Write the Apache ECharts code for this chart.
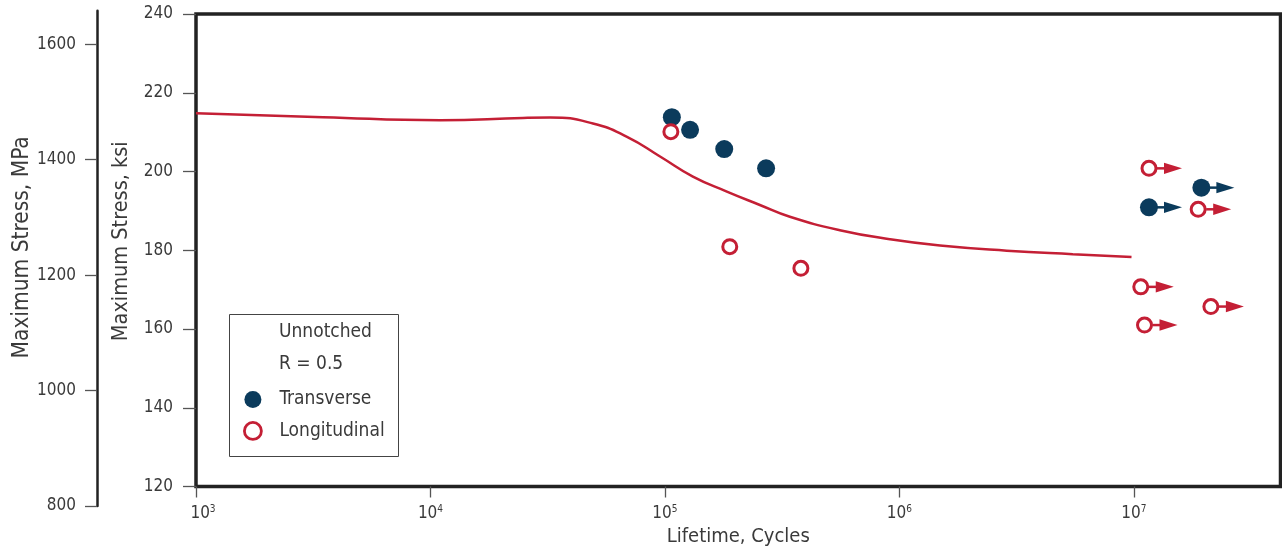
<!DOCTYPE html>
<html>
<head>
<meta charset="utf-8">
<script src="https://cdn.jsdelivr.net/npm/echarts@6/dist/echarts.min.js"></script>
<style>
html,body{margin:0;padding:0;background:#fff;}
#chart{width:1282px;height:546px;}
</style>
</head>
<body>
<div id="chart"></div>
<script>
// ---- data (cycles, ksi) ----
var transverseN   = [1.07e5, 1.28e5, 1.79e5, 2.70e5];
var transverseKsi = [213.8, 210.6, 205.7, 200.8];
var transverseRunoutN   = [1.16e7, 1.94e7];
var transverseRunoutKsi = [190.9, 195.9];

var longitudinalN   = [1.06e5, 1.89e5, 3.80e5];
var longitudinalKsi = [210.1, 180.9, 175.4];
var longitudinalRunoutN   = [1.16e7, 1.88e7, 1.07e7, 1.11e7, 2.13e7];
var longitudinalRunoutKsi = [200.8, 190.4, 170.7, 161.0, 165.7];

var curveN   = [1.0e3, 3.48e3, 1.10e4, 2.48e4, 3.24e4, 4.93e4, 6.89e4, 9.53e4, 1.316e5, 1.837e5, 2.54e5, 3.41e5, 5.57e5, 9.10e5, 1.49e6, 2.87e6, 5.49e6, 9.77e6];
var curveKsi = [214.8, 213.8, 213.0, 213.6, 213.7, 212.2, 208.8, 203.8, 198.7, 194.9, 191.5, 188.5, 185.1, 182.8, 181.2, 179.9, 179.0, 178.3];

var xTicks = [1e3, 1e4, 1e5, 1e6, 1e7];
var legendHeader = ['Unnotched', 'R = 0.5'];
var seriesNames = ['Transverse', 'Longitudinal'];

// ---- styling ----
var NAVY = '#0b3b5c';
var RED = '#c41f35';
var FONT = "'Liberation Sans Narrow','Arial Narrow','DejaVu Sans Condensed',sans-serif";
var TXT = '#3a3a3a';

function zip(a, b) { return a.map(function (v, i) { return [v, b[i]]; }); }

function arrowRender(color) {
  return function (params, api) {
    var p = api.coord([api.value(0), api.value(1)]);
    return {
      type: 'group',
      children: [
        { type: 'line', shape: { x1: p[0] + 8, y1: p[1], x2: p[0] + 17, y2: p[1] },
          style: { stroke: color, lineWidth: 2.5 } },
        { type: 'polygon', shape: { points: [[p[0] + 15, p[1] - 5.7], [p[0] + 33, p[1]], [p[0] + 15, p[1] + 5.7]] },
          style: { fill: color } }
      ]
    };
  };
}

var chart = echarts.init(document.getElementById('chart'), null, { renderer: 'canvas' });

var option = {
  animation: false,
  backgroundColor: '#fff',
  textStyle: { fontFamily: FONT },
  grid: [
    { left: 196, top: 14, right: 1.5, bottom: 59.5, show: true, borderColor: '#222', borderWidth: 3.5,
      backgroundColor: 'transparent', containLabel: false, outerBoundsMode: 'none' },
    { left: 97, top: 10.7, width: 1, bottom: 40, show: false, containLabel: false, outerBoundsMode: 'none' }
  ],
  xAxis: [
    {
      type: 'log', gridIndex: 0, logBase: 10, min: 1e3, max: 4.22e7,
      name: 'Lifetime, Cycles', nameLocation: 'middle', nameGap: 30,
      nameTextStyle: { fontSize: 20, color: TXT, fontFamily: FONT },
      axisLine: { show: false },
      axisTick: { show: true, inside: false, length: 11, customValues: xTicks, lineStyle: { color: '#555', width: 1.3 } },
      axisLabel: {
        customValues: xTicks, margin: 18, color: TXT, fontFamily: FONT,
        formatter: function (v) {
          var e = Math.round(Math.log10(v));
          return (e === 3 ? '{f|10}' : '{b|10}') + '{s|' + e + '}';
        },
        rich: {
          b: { fontSize: 17, color: TXT, fontFamily: FONT },
          f: { fontSize: 17, color: TXT, fontFamily: FONT, padding: [0, 0, 0, 14] },
          s: { fontSize: 10, color: TXT, fontFamily: FONT, padding: [0, 0, 8, 0] }
        }
      },
      splitLine: { show: false }
    },
    { type: 'value', gridIndex: 1, show: false, min: 0, max: 1 }
  ],
  yAxis: [
    {
      type: 'value', gridIndex: 0, min: 120, max: 240, interval: 20,
      name: 'Maximum Stress, ksi', nameLocation: 'middle', nameGap: 56, nameRotate: 90,
      nameTextStyle: { fontSize: 21.5, color: TXT, fontFamily: FONT, padding: [0, 0, 0, 18] },
      axisLine: { show: false },
      axisTick: { show: true, inside: false, length: 13, lineStyle: { color: '#555', width: 1.3 } },
      axisLabel: { margin: 23, fontSize: 17, color: TXT, fontFamily: FONT },
      splitLine: { show: false }
    },
    {
      type: 'value', gridIndex: 1, min: 800, max: 1658, interval: 200,
      name: 'Maximum Stress, MPa', nameLocation: 'middle', nameGap: 63, nameRotate: 90,
      nameTextStyle: { fontSize: 22.5, color: TXT, fontFamily: FONT, padding: [0, 0, 0, 22] },
      axisLine: { show: true, lineStyle: { color: '#222', width: 2.5 } },
      axisTick: { show: true, inside: false, length: 12, lineStyle: { color: '#555', width: 1.3 } },
      axisLabel: { margin: 21, fontSize: 17, color: TXT, fontFamily: FONT, showMaxLabel: false,
        formatter: function (v) { return String(v); } },
      splitLine: { show: false }
    }
  ],
  legend: {
    orient: 'vertical', left: 238, top: 385,
    itemWidth: 17, itemHeight: 17, itemGap: 12,
    textStyle: { fontSize: 19, color: TXT, fontFamily: FONT, padding: [0, 0, 0, 13] },
    data: [
      { name: 'Transverse', icon: 'circle', itemStyle: { color: NAVY, borderWidth: 0 } },
      { name: 'Longitudinal', icon: 'circle', itemStyle: { color: '#fff', borderColor: RED, borderWidth: 2.8 } }
    ],
    selectedMode: false
  },
  graphic: [
    { type: 'rect', left: 227, top: 312, shape: { width: 169, height: 142 }, style: { fill: 'none', stroke: '#444', lineWidth: 1 }, z: 1 },
    { type: 'text', left: 279, top: 323, style: { text: legendHeader[0], fontSize: 19, fill: TXT, fontFamily: FONT }, z: 2 },
    { type: 'text', left: 279, top: 355, style: { text: legendHeader[1], fontSize: 19, fill: TXT, fontFamily: FONT }, z: 2 }
  ],
  series: [
    {
      name: 'S-N curve', type: 'line', xAxisIndex: 0, yAxisIndex: 0,
      data: zip(curveN, curveKsi), smooth: 0.5, showSymbol: false, symbol: 'none',
      lineStyle: { color: RED, width: 2.5 }, z: 2, silent: true
    },
    {
      name: seriesNames[0], type: 'scatter', xAxisIndex: 0, yAxisIndex: 0,
      data: zip(transverseN, transverseKsi).concat(zip(transverseRunoutN, transverseRunoutKsi)),
      symbol: 'circle', symbolSize: 18, itemStyle: { color: NAVY, opacity: 1 }, z: 4
    },
    {
      name: seriesNames[1], type: 'scatter', xAxisIndex: 0, yAxisIndex: 0,
      data: zip(longitudinalN, longitudinalKsi).concat(zip(longitudinalRunoutN, longitudinalRunoutKsi)),
      symbol: 'circle', symbolSize: 14, itemStyle: { color: '#fff', borderColor: RED, borderWidth: 3, opacity: 1 }, z: 5
    },
    {
      name: 'Transverse runout', type: 'custom', xAxisIndex: 0, yAxisIndex: 0,
      data: zip(transverseRunoutN, transverseRunoutKsi), encode: { x: 0, y: 1 },
      renderItem: arrowRender(NAVY), z: 3, clip: false
    },
    {
      name: 'Longitudinal runout', type: 'custom', xAxisIndex: 0, yAxisIndex: 0,
      data: zip(longitudinalRunoutN, longitudinalRunoutKsi), encode: { x: 0, y: 1 },
      renderItem: arrowRender(RED), z: 3, clip: false
    }
  ]
};
chart.setOption(option);
</script>
</body>
</html>
